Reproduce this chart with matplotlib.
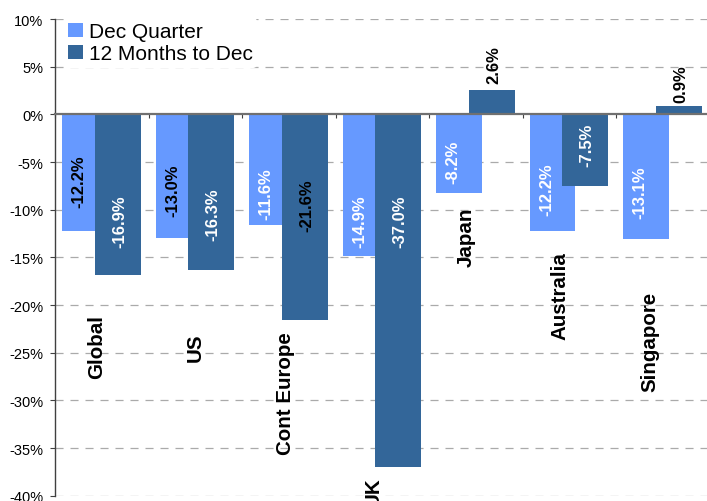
import matplotlib
matplotlib.use("Agg")
import matplotlib.pyplot as plt
import numpy as np

# data (% returns)
regions = ["Global", "US", "Cont Europe", "UK", "Japan", "Australia", "Singapore"]
dec_quarter = [-12.2, -13.0, -11.6, -14.9, -8.2, -12.2, -13.1]
twelve_months = [-16.9, -16.3, -21.6, -37.0, 2.6, -7.5, 0.9]
series_names = ["Dec Quarter", "12 Months to Dec"]

# label placement / colours (layout only)
q_label_y = [-7.0, -7.9, -8.3, -11.1, -4.9, -7.8, -8.1]
y_label_y = [-11.2, -10.4, -9.5, -11.2, 5.3, -3.1, 3.3]
q_label_col = ["black", "black", "white", "white", "white", "white", "white"]
y_label_col = ["white", "white", "black", "white", "black", "white", "black"]
cat_label_x = [-0.06, 1.0, 1.96, 2.9, 3.9, 4.9, 5.86]
cat_label_top = [-20.9, -22.9, -22.8, -38.0, -9.7, -14.3, -18.5]

light = "#6699FF"
dark = "#336699"

plt.rcParams["font.family"] = ["Liberation Sans", "DejaVu Sans"]
plt.rcParams["lines.scale_dashes"] = False

fig = plt.figure(figsize=(7.07, 5.02), dpi=100)
ax = fig.add_axes([0.0778, 0.0106, 0.926, 0.9494])

x = np.arange(len(regions))
w = 0.49
ax.bar(x - 0.18, dec_quarter, w, color=light, label=series_names[0], zorder=2)
ax.bar(x + 0.17, twelve_months, w, color=dark, label=series_names[1], zorder=3)

for i in range(len(regions)):
    ax.text(x[i] - 0.245, q_label_y[i], f"{dec_quarter[i]:.1f}%", rotation=90,
            ha="center", va="center", fontsize=12, fontweight="bold",
            color=q_label_col[i], zorder=5)
    ax.text(x[i] + 0.19, y_label_y[i], f"{twelve_months[i]:.1f}%", rotation=90,
            ha="center", va="center", fontsize=12, fontweight="bold",
            color=y_label_col[i], zorder=5)
    ax.text(cat_label_x[i], cat_label_top[i], regions[i], rotation=90,
            ha="center", va="top", fontsize=14.8, fontweight="bold",
            color="black", zorder=5, clip_on=False)

ax.set_xlim(-0.5, len(regions) - 0.5)
ax.set_ylim(-40, 10)
yt = np.arange(-40, 11, 5)
ax.set_yticks(yt)
ax.set_yticklabels([f"{v}%" for v in yt], fontsize=10.5)
for v in yt:
    if v != 0:
        ax.axhline(v, color="#AAAAAA", lw=0.9, ls=(0, (5.8, 5)), zorder=1)

ax.set_xticks(np.arange(-0.5, len(regions), 1.0))
ax.set_xticklabels([])
ax.spines["bottom"].set_position(("data", 0))
ax.spines["bottom"].set_color("#707070")
ax.spines["bottom"].set_linewidth(1.6)
ax.spines["bottom"].set_zorder(4)
ax.spines["left"].set_color("#404040")
ax.spines["left"].set_linewidth(1.0)
ax.spines["top"].set_visible(False)
ax.spines["right"].set_visible(False)
ax.tick_params(axis="y", direction="out", length=3.5, width=0.8, pad=5, color="#404040")
ax.tick_params(axis="x", direction="out", length=3, width=0.8, color="#404040")

leg = ax.legend(loc="upper left", bbox_to_anchor=(0.0905, 0.962), bbox_transform=fig.transFigure,
                fontsize=15, frameon=True, handlelength=0.7, handleheight=0.7,
                handletextpad=0.3, labelspacing=0.15, borderaxespad=0, borderpad=0.2)
leg.get_frame().set_edgecolor("none")
leg.get_frame().set_facecolor("white")
leg.get_frame().set_alpha(1)
leg.set_zorder(6)

fig.savefig("out.png", dpi=100)
